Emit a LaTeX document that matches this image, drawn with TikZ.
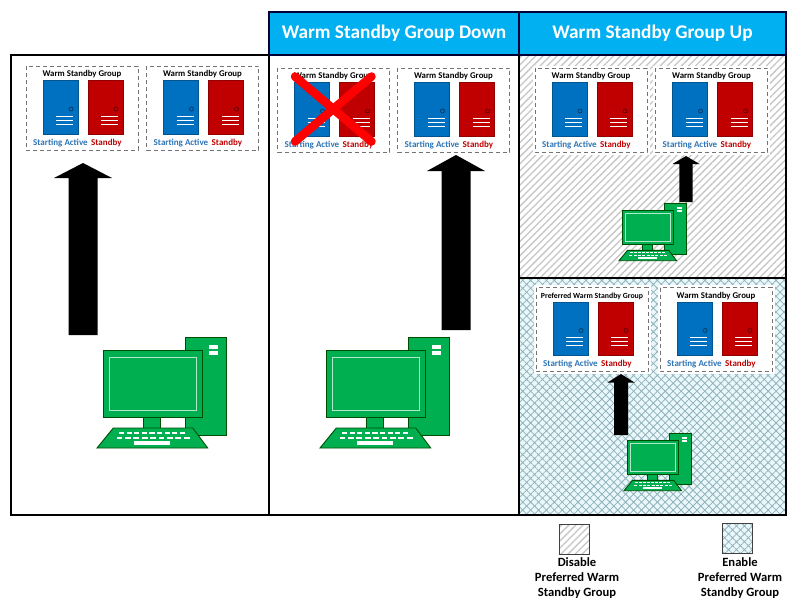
\documentclass[tikz,border=0pt]{standalone}
\usepackage{fontspec}
\setmainfont{Carlito}
\usetikzlibrary{positioning,patterns.meta}
\definecolor{headblue}{HTML}{00B0F0}
\definecolor{srvblue}{HTML}{0070C0}
\definecolor{srvred}{HTML}{C00000}
\definecolor{pcgreen}{HTML}{00B050}
\definecolor{labelblue}{HTML}{2E75B6}
\definecolor{hatchgray}{HTML}{C6C6C6}
\definecolor{hatchteal}{HTML}{8FB2BA}
\definecolor{hatchback}{HTML}{EAF8FB}
\tikzset{
	panel/.style={draw=black, line width=1.6pt},
	headbox/.style={draw=black!80!blue, line width=1.6pt, fill=headblue, text=white, font=\fontsize{19.3}{21}\selectfont\bfseries, minimum height=43pt, inner sep=0pt},
	hatchoff/.style={pattern={Lines[angle=45,distance=5pt,line width=1.3pt]}, pattern color=hatchgray},
	hatchon/.style={pattern={Hatch[angle=45,distance=5.6pt,line width=.8pt]}, pattern color=hatchteal},
	swatch/.style={draw=black!75, line width=1pt, minimum size=30pt, inner sep=0pt},
	legendtext/.style={align=center, font=\fontsize{12.6}{15}\selectfont\bfseries, inner sep=0pt},
	server/.style={line width=.7pt},
	pcpart/.style={draw=black!70!green, fill=pcgreen, line width=.9pt},
	pics/rackunit/.style={code={
		\draw[server, fill=#1, draw=#1!75!black] (0,0) rectangle (35,53.5);
		\draw[#1!50!black, line width=.7pt] (28,28.5) circle (2);
		\foreach \ly in {35.5,39.5,43.5}
			\draw[white, line width=.9pt] (13,\ly) -- (30,\ly);
	}},
	pics/wsgroup/.style={code={
		\draw[fill=white, draw=white] (-2,-2) rectangle (114,86);
		\draw[dash pattern=on 4pt off 3pt, draw=black!55, line width=1pt] (0,0) rectangle (112,84);
		\node[font=\fontsize{8.8}{10}\selectfont\bfseries, inner sep=0pt] (title) at (56,8.5) {#1};
		\path (17,14.5) pic {rackunit=srvblue};
		\path (62,14.5) pic {rackunit=srvred};
		\node[font=\fontsize{9}{10}\selectfont\bfseries, text=labelblue, inner sep=0pt, anchor=west] (active) at (7,77) {Starting Active};
		\node[font=\fontsize{9}{10}\selectfont\bfseries, text=srvred, inner sep=0pt, anchor=west] (standby) at (65,77) {Standby};
	}},
	pics/computer/.style={code={
		\draw[pcpart] (88,0) rectangle (129.7,98.7);
		\fill[white] (112.3,8) rectangle (121.3,12);
		\fill[white] (112.3,13.7) rectangle (121.3,17.7);
		\draw[pcpart] (46,80.3) rectangle (63.7,91);
		\draw[pcpart] (6.3,13.7) rectangle (105.3,80.3);
		\draw[white!70!pcgreen, line width=.9pt] (12,20) rectangle (99,73.5);
		\draw[pcpart] (16.3,91) -- (95.7,91) -- (110.7,111) -- (0,111) -- cycle;
		\foreach \kx in {0,...,8} {
			\fill[white] ({22+\kx*7.6},94.5) rectangle ++(5.2,2.6);
			\fill[white] ({19.5+\kx*8.4},99.5) rectangle ++(5.8,2.6);
		}
		\fill[white] (37,104) rectangle (73,107.5);
	}}
}
\newcommand{\blockarrow}[6]{
	\fill[black] ({#1-#6},#4) -- ({#1-#6},#3) -- ({#1-#5},#3) -- (#1,#2) -- ({#1+#5},#3) -- ({#1+#6},#3) -- ({#1+#6},#4) -- cycle;
}
\begin{document}
\begin{tikzpicture}[x=1pt, y=-1pt]
	\useasboundingbox (0,0) rectangle (800,613);

	\fill[white] (0,0) rectangle (800,613);
	\path[hatchoff] (519,55) rectangle (786,278);
	\fill[hatchback] (519,278) rectangle (786,515);
	\path[hatchon] (519,278) rectangle (786,515);

	\draw[panel] (11,55) rectangle (269,515);
	\draw[panel] (269,55) rectangle (519,515);
	\draw[panel] (519,55) rectangle (786,278);
	\draw[panel] (519,278) rectangle (786,515);

	\node[headbox, minimum width=250pt] (headdown) at (394,33.5) {Warm Standby Group Down};
	\node[headbox, minimum width=267pt] (headup) at (652.5,33.5) {Warm Standby Group Up};

	\path (26,66) pic (lefta) {wsgroup={Warm Standby Group}};
	\path (146.5,66) pic (leftb) {wsgroup={Warm Standby Group}};
	\path (277.5,68) pic (mida) {wsgroup={Warm Standby Group}};
	\path (397.5,68) pic (midb) {wsgroup={Warm Standby Group}};
	\path (535,68) pic (offa) {wsgroup={Warm Standby Group}};
	\path (655.5,68) pic (offb) {wsgroup={Warm Standby Group}};
	\path (536,287.5) pic (ona) {wsgroup={\fontsize{7.8}{9}\selectfont Preferred Warm Standby Group}};
	\path (660,287.5) pic (onb) {wsgroup={Warm Standby Group}};

	\draw[red, line width=8.5pt, line cap=round] (295,76.5) -- (371.5,141.5);
	\draw[red, line width=8.5pt, line cap=round] (371.5,76.5) -- (295,141.5);

	\blockarrow{83}{163}{178}{335}{29}{14.5}
	\blockarrow{456}{155}{171}{330}{29}{14.5}
	\blockarrow{686}{156}{164}{202}{13.5}{6.7}
	\blockarrow{621}{374}{382.5}{435}{13.5}{7}

	\path (97,337) pic {computer};
	\path (320,337) pic {computer};
	\path (619,203) pic[scale=.52] {computer};
	\path (624,433) pic[scale=.52] {computer};

	\node[swatch, hatchoff] (swatchoff) at (574,539) {};
	\node[swatch, fill=hatchback] (swatchback) at (737,538) {};
	\node[swatch, hatchon] (swatchon) at (737,538) {};
	\node[legendtext, below=3pt of swatchoff, xshift=3pt] (legendoff) {Disable\\Preferred Warm\\Standby Group};
	\node[legendtext, below=4pt of swatchon, xshift=3pt] (legendon) {Enable\\Preferred Warm\\Standby Group};
\end{tikzpicture}
\end{document}
